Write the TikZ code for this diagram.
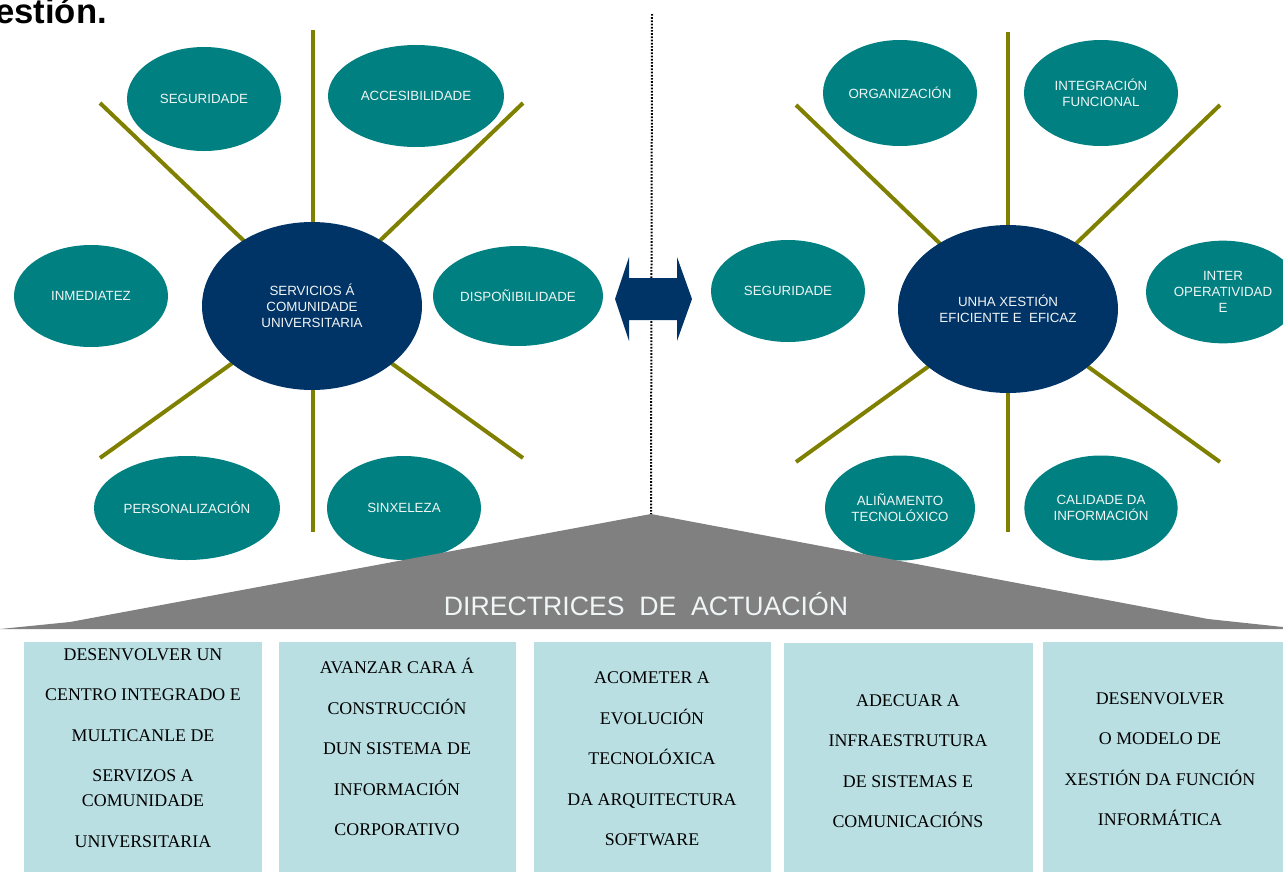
\documentclass[tikz,border=0pt]{standalone}
\usepackage{fontspec}
\setmainfont{Liberation Serif}
\setsansfont{Liberation Sans}
\usetikzlibrary{shapes.geometric,backgrounds}
\definecolor{tealc}{RGB}{0,128,128}
\definecolor{navyc}{RGB}{0,51,102}
\definecolor{olivec}{RGB}{128,128,0}
\definecolor{grayc}{RGB}{128,128,128}
\definecolor{boxc}{RGB}{185,223,227}
\definecolor{satext}{RGB}{240,245,245}
\begin{document}
\begin{tikzpicture}[x=0.75pt,y=-0.75pt,
 sat/.style={ellipse,fill=tealc,text=satext,inner sep=0pt,align=center,font=\sffamily\fontsize{10}{12}\selectfont},
 hub/.style={ellipse,fill=navyc,text=satext,inner sep=0pt,align=center,minimum width=165pt,minimum height=126pt,font=\sffamily\fontsize{10}{12}\selectfont},
 spoke/.style={draw=olivec,line width=3pt},
 dirbox/.style={fill=boxc,inner sep=0pt,anchor=north west,minimum height=172.5pt},
 dirtext/.style={align=center,font=\rmfamily\fontsize{13.4}{30.4}\selectfont,text=black}
]
\useasboundingbox (0,0) rectangle (1283,872);

% title fragment
\node[anchor=base west,inner sep=0pt,font=\sffamily\bfseries\fontsize{26}{30}\selectfont] (title) at (-5,23) {estión.};

% left hub and satellites
\node[hub] (hubL) at (312,306) {SERVICIOS Á\\COMUNIDADE\\UNIVERSITARIA};
\node[sat,minimum width=115.5pt,minimum height=78pt] (seg1) at (204,99) {SEGURIDADE};
\node[sat,minimum width=132pt,minimum height=76.5pt] (acc) at (416,96) {ACCESIBILIDADE};
\node[sat,minimum width=115.5pt,minimum height=76.5pt] (inm) at (91,296) {INMEDIATEZ};
\node[sat,minimum width=127.5pt,minimum height=75pt] (disp) at (518,296) {DISPOÑIBILIDADE};
\node[sat,minimum width=139.5pt,minimum height=78pt] (pers) at (187,508) {PERSONALIZACIÓN};
\node[sat,minimum width=115.5pt,minimum height=78pt] (sinx) at (404,508) {SINXELEZA};

% right hub and satellites
\node[hub] (hubR) at (1008,309) {UNHA XESTIÓN\\EFICIENTE E\ \ EFICAZ};
\node[sat,minimum width=115.5pt,minimum height=79.5pt] (org) at (900,93) {ORGANIZACIÓN};
\node[sat,minimum width=115.5pt,minimum height=79.5pt] (integ) at (1101,93) {INTEGRACIÓN\\FUNCIONAL};
\node[sat,minimum width=115.5pt,minimum height=76.5pt] (seg2) at (788,291) {SEGURIDADE};
\node[sat,minimum width=115.5pt,minimum height=77pt] (inter) at (1223,292) {INTER\\OPERATIVIDAD\\E};
\node[sat,minimum width=112.5pt,minimum height=78.75pt] (alin) at (900,508) {ALIÑAMENTO\\TECNOLÓXICO};
\node[sat,minimum width=115pt,minimum height=78.75pt] (cal) at (1101,508) {CALIDADE DA\\INFORMACIÓN};

% spoke end points
\coordinate (lt) at (313,30);
\coordinate (lb) at (313,532);
\coordinate (lul) at (100,103);
\coordinate (lur) at (523,103);
\coordinate (lll) at (100,458);
\coordinate (llr) at (523,458);
\coordinate (rt) at (1008,32);
\coordinate (rb) at (1008,532);
\coordinate (rul) at (796,105);
\coordinate (rur) at (1220,105);
\coordinate (rll) at (796,462);
\coordinate (rlr) at (1220,462);
\coordinate (dtop) at (652,14);
\coordinate (apex) at (651,514);

\begin{scope}[on background layer]
 \draw[spoke] (lt) -- (lb);
 \draw[spoke] (lul) -- (hubL.center);
 \draw[spoke] (lur) -- (hubL.center);
 \draw[spoke] (lll) -- (hubL.center);
 \draw[spoke] (llr) -- (hubL.center);
 \draw[spoke] (rt) -- (rb);
 \draw[spoke] (rul) -- (hubR.center);
 \draw[spoke] (rur) -- (hubR.center);
 \draw[spoke] (rll) -- (hubR.center);
 \draw[spoke] (rlr) -- (hubR.center);
 \draw[black,line width=1.5pt,dash pattern=on 1.3pt off 1.1pt] (dtop) -- (apex);
\end{scope}

% double arrow
\fill[navyc] (615,299) -- (629,257) -- (629,278) -- (677,278) -- (677,257) -- (692,299)
  -- (677,341) -- (677,320) -- (629,320) -- (629,341) -- cycle;

% gray band
\fill[grayc] (0,629) -- (70,622) -- (apex) -- (1208,619) -- (1283,627) -- (1283,629) -- cycle;
\node[text=satext,font=\sffamily\fontsize{20}{24}\selectfont,inner sep=0pt] (dir) at (646,604)
  {DIRECTRICES\hspace{0.55em}DE\hspace{0.55em}ACTUACIÓN};

% boxes
\node[dirbox,minimum width=178.5pt] (b1) at (24,642) {};
\node[dirbox,minimum width=177.75pt] (b2) at (279,642) {};
\node[dirbox,minimum width=177.75pt] (b3) at (534,642) {};
\node[dirbox,minimum width=186.75pt] (b4) at (784,643) {};
\node[dirbox,minimum width=180pt] (b5) at (1043,642) {};

\node[dirtext] (t1) at (143,748) {DESENVOLVER UN\\CENTRO INTEGRADO E\\MULTICANLE DE\\SERVIZOS A\\[-11.6pt]COMUNIDADE\\UNIVERSITARIA};
\node[dirtext] (t2) at (397,747) {AVANZAR CARA Á\\CONSTRUCCIÓN\\DUN SISTEMA DE\\INFORMACIÓN\\CORPORATIVO};
\node[dirtext] (t3) at (652,759) {ACOMETER A\\EVOLUCIÓN\\TECNOLÓXICA\\DA ARQUITECTURA\\SOFTWARE};
\node[dirtext] (t4) at (908,761) {ADECUAR A\\INFRAESTRUTURA\\DE SISTEMAS E\\COMUNICACIÓNS};
\node[dirtext] (t5) at (1160,759) {DESENVOLVER\\O MODELO DE\\XESTIÓN DA FUNCIÓN\\INFORMÁTICA};
\end{tikzpicture}
\end{document}
